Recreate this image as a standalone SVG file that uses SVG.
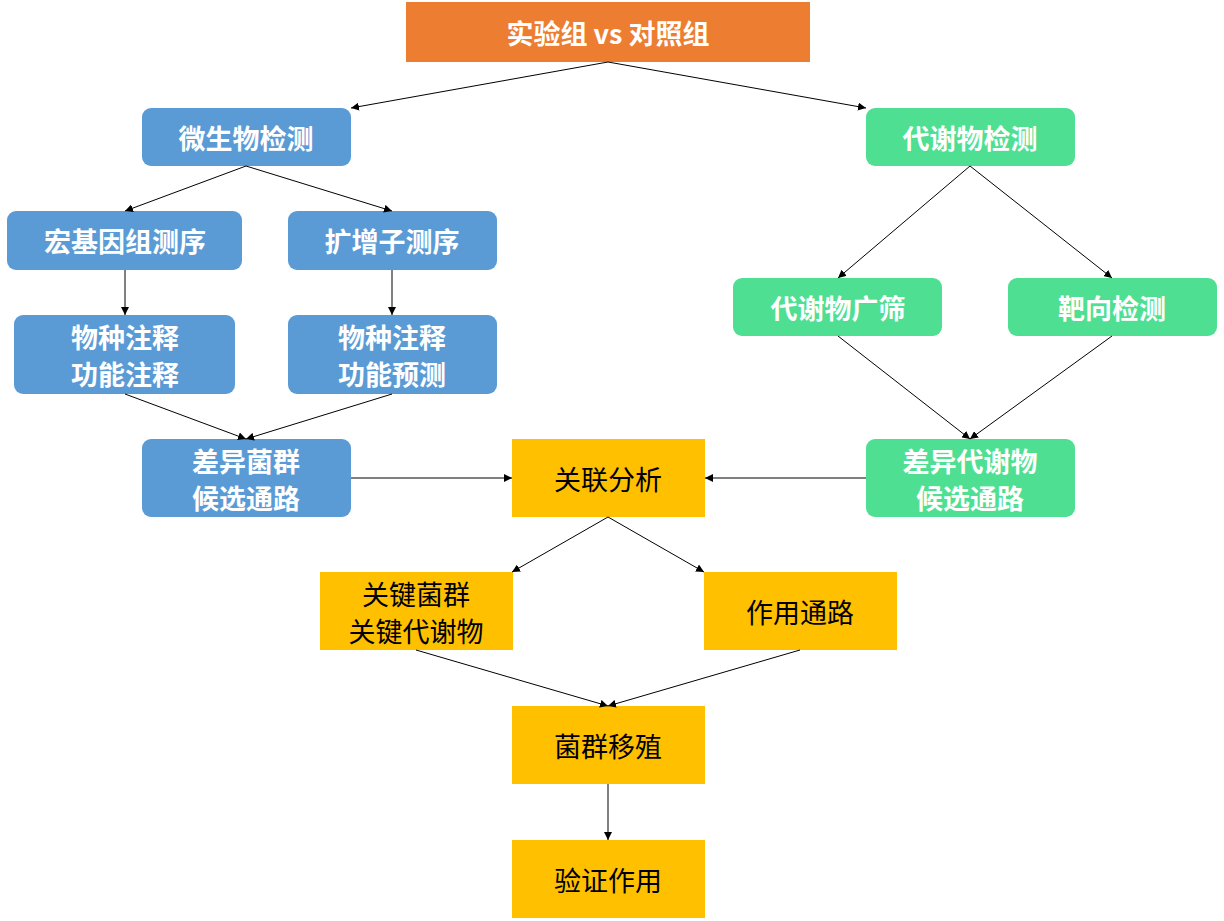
<svg xmlns="http://www.w3.org/2000/svg" width="1224" height="921" viewBox="0 0 1224 921">
<style>
.b{fill:#5B9BD5}.g{fill:#4FDF93}.y{fill:#FFC000}.o{fill:#ED7D31}
text{font-family:"Noto Sans CJK SC","Liberation Sans",sans-serif;font-size:27px;text-anchor:middle;dominant-baseline:central}
.w{fill:#fff;font-weight:bold}.k{fill:#000}
.c line{stroke:#000;stroke-width:1;marker-end:url(#a)}
</style>
<defs><marker id="a" viewBox="0 0 10 10" refX="10" refY="5" markerWidth="8" markerHeight="8" orient="auto" markerUnits="userSpaceOnUse"><path d="M0,0L10,5L0,10z" fill="#000"/></marker></defs>
<rect width="1224" height="921" fill="#fff"/>
<g id="top"><rect class="o" x="406" y="2" width="404" height="60"/><text class="w" x="608" y="32">实验组 vs 对照组</text></g>
<g id="micro"><rect class="b" x="142" y="108" width="209" height="58" rx="9"/><text class="w" x="246" y="137">微生物检测</text></g>
<g id="meta"><rect class="g" x="866" y="108" width="209" height="58" rx="9"/><text class="w" x="970" y="137">代谢物检测</text></g>
<g id="mg"><rect class="b" x="7" y="211" width="235" height="59" rx="9"/><text class="w" x="125" y="240">宏基因组测序</text></g>
<g id="amp"><rect class="b" x="288" y="211" width="209" height="59" rx="9"/><text class="w" x="392" y="240">扩增子测序</text></g>
<g id="ann1"><rect class="b" x="14" y="315" width="221" height="79" rx="9"/><text class="w" x="125" y="336">物种注释</text><text class="w" x="125" y="373">功能注释</text></g>
<g id="ann2"><rect class="b" x="288" y="315" width="209" height="79" rx="9"/><text class="w" x="392" y="336">物种注释</text><text class="w" x="392" y="373">功能预测</text></g>
<g id="wide"><rect class="g" x="733" y="278" width="209" height="58" rx="9"/><text class="w" x="838" y="307">代谢物广筛</text></g>
<g id="target"><rect class="g" x="1008" y="278" width="209" height="58" rx="9"/><text class="w" x="1112" y="307">靶向检测</text></g>
<g id="diffb"><rect class="b" x="142" y="439" width="209" height="78" rx="9"/><text class="w" x="246" y="460">差异菌群</text><text class="w" x="246" y="497">候选通路</text></g>
<g id="corr"><rect class="y" x="512" y="439" width="193" height="78"/><text class="k" x="608" y="478">关联分析</text></g>
<g id="diffm"><rect class="g" x="866" y="439" width="209" height="78" rx="9"/><text class="w" x="970" y="460">差异代谢物</text><text class="w" x="970" y="497">候选通路</text></g>
<g id="key"><rect class="y" x="320" y="572" width="193" height="78"/><text class="k" x="416" y="593">关键菌群</text><text class="k" x="416" y="630">关键代谢物</text></g>
<g id="path"><rect class="y" x="704" y="572" width="193" height="78"/><text class="k" x="800" y="611">作用通路</text></g>
<g id="fmt"><rect class="y" x="512" y="706" width="193" height="78"/><text class="k" x="608" y="745">菌群移殖</text></g>
<g id="verify"><rect class="y" x="512" y="840" width="193" height="78"/><text class="k" x="608" y="879">验证作用</text></g>
<g class="c">
<line x1="608" y1="62" x2="351" y2="108"/><line x1="608" y1="62" x2="866" y2="108"/>
<line x1="246" y1="166" x2="125" y2="211"/><line x1="246" y1="166" x2="392" y2="211"/>
<line x1="125" y1="270" x2="125" y2="315"/><line x1="392" y1="270" x2="392" y2="315"/>
<line x1="125" y1="394" x2="246" y2="439"/><line x1="392" y1="394" x2="246" y2="439"/>
<line x1="970" y1="166" x2="838" y2="278"/><line x1="970" y1="166" x2="1112" y2="278"/>
<line x1="838" y1="336" x2="970" y2="439"/><line x1="1112" y1="336" x2="970" y2="439"/>
<line x1="351" y1="478" x2="512" y2="478"/><line x1="866" y1="478" x2="705" y2="478"/>
<line x1="608" y1="517" x2="512" y2="572"/><line x1="608" y1="517" x2="704" y2="572"/>
<line x1="416" y1="650" x2="608" y2="706"/><line x1="800" y1="650" x2="608" y2="706"/>
<line x1="608" y1="784" x2="608" y2="840"/>
</g>
</svg>
